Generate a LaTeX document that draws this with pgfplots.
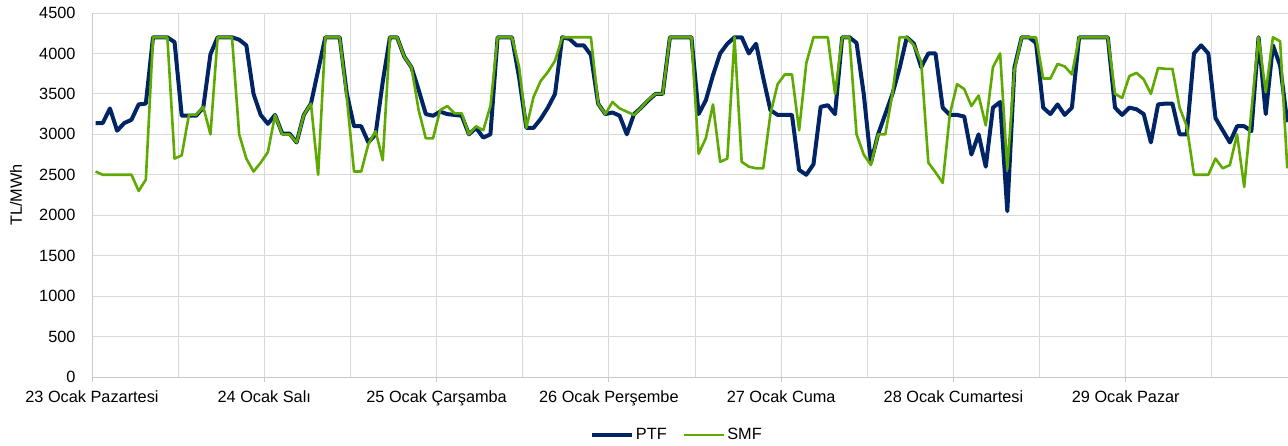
\documentclass[border=0pt]{standalone}
\usepackage{fontspec}
\setmainfont{Liberation Sans}
\usepackage{pgfplots}
\pgfplotsset{compat=1.18}
\usepackage{pgfplotstable}

\definecolor{ptf}{RGB}{0,36,100}
\definecolor{smf}{RGB}{94,170,0}
\definecolor{grd}{RGB}{217,217,217}
\definecolor{axc}{RGB}{200,200,200}
\newcommand\f{\fontsize{16.3}{19.5}\selectfont}

% hourly prices, 23-29 Ocak (h = hour from start)
\pgfplotstableread{
h ptf smf
0 3140 2540
1 3140 2500
2 3320 2500
3 3045 2500
4 3140 2500
5 3180 2500
6 3370 2300
7 3380 2440
8 4200 4200
9 4200 4200
10 4200 4200
11 4140 2700
12 3230 2740
13 3230 3240
14 3230 3240
15 3330 3340
16 3990 3000
17 4200 4200
18 4200 4200
19 4200 4200
20 4170 3000
21 4100 2700
22 3500 2540
23 3240 2650
24 3130 2780
25 3240 3240
26 3010 3000
27 3010 3000
28 2900 2900
29 3240 3240
30 3380 3380
31 3790 2500
32 4200 4200
33 4200 4200
34 4200 4200
35 3500 3450
36 3100 2540
37 3100 2540
38 2900 2880
39 3000 3040
40 3650 2680
41 4200 4200
42 4200 4200
43 3960 3960
44 3830 3830
45 3550 3300
46 3250 2950
47 3230 2950
48 3280 3300
49 3250 3350
50 3240 3260
51 3230 3260
52 3000 3000
53 3080 3100
54 2960 3050
55 3000 3350
56 4200 4200
57 4200 4200
58 4200 4200
59 3700 3830
60 3080 3080
61 3080 3460
62 3190 3660
63 3330 3770
64 3500 3910
65 4200 4200
66 4180 4200
67 4100 4200
68 4100 4200
69 3980 4200
70 3380 3380
71 3250 3250
72 3270 3400
73 3230 3320
74 3000 3280
75 3250 3240
76 3330 3330
77 3420 3430
78 3500 3500
79 3500 3500
80 4200 4200
81 4200 4200
82 4200 4200
83 4200 4200
84 3250 2760
85 3420 2950
86 3730 3370
87 4000 2660
88 4120 2700
89 4200 4200
90 4200 2660
91 4000 2600
92 4120 2580
93 3700 2580
94 3300 3250
95 3240 3620
96 3240 3740
97 3240 3740
98 2560 3050
99 2500 3880
100 2630 4200
101 3340 4200
102 3360 4200
103 3250 3500
104 4200 4200
105 4200 4200
106 4130 3000
107 3500 2750
108 2650 2620
109 3000 3000
110 3250 3000
111 3500 3500
112 3820 4200
113 4200 4200
114 4120 4100
115 3830 3900
116 4000 2650
117 4000 2530
118 3330 2400
119 3240 3250
120 3240 3620
121 3220 3560
122 2750 3350
123 3000 3480
124 2600 3110
125 3330 3830
126 3400 4000
127 2050 2570
128 3830 3800
129 4200 4200
130 4200 4200
131 4130 4200
132 3330 3690
133 3250 3690
134 3370 3870
135 3240 3840
136 3330 3740
137 4200 4200
138 4200 4200
139 4200 4200
140 4200 4200
141 4200 4200
142 3330 3500
143 3240 3450
144 3330 3720
145 3310 3760
146 3250 3680
147 2900 3500
148 3370 3820
149 3380 3810
150 3380 3810
151 3000 3330
152 3000 3100
153 4000 2500
154 4100 2500
155 4000 2500
156 3200 2700
157 3050 2580
158 2900 2620
159 3100 3000
160 3100 2350
161 3040 3290
162 4200 4200
163 3250 3520
164 4100 4200
165 3850 4150
166 3150 2580
}\prices

\begin{document}
\begin{tikzpicture}
\begin{axis}[
  name=ax,
  scale only axis,
  width=1196pt, height=364pt,
  xmin=0, xmax=166.6,
  ymin=0, ymax=4500,
  axis lines*=left,
  axis line style={draw=axc, line width=1pt},
  xtick={0,24,...,144},
  xticklabels={23 Ocak Pazartesi,24 Ocak Salı,25 Ocak Çarşamba,26 Ocak Perşembe,27 Ocak Cuma,28 Ocak Cumartesi,29 Ocak Pazar},
  minor xtick={12,36,...,156},
  ytick={0,500,...,4500},
  grid=both,
  major grid style={draw=grd, line width=1pt},
  minor grid style={draw=grd, line width=1pt},
  tick align=outside,
  major tick length=5pt,
  minor tick length=0pt,
  xtick style={draw=axc, line width=1pt},
  ytick style={draw=none},
  tick label style={font=\f},
  xticklabel style={yshift=-5pt},
  yticklabel style={xshift=-8pt},
  /pgf/number format/assume math mode=true,
  /pgf/number format/1000 sep={},
  ylabel={TL/MWh},
  ylabel style={font=\f, at={(axis description cs:-0.0635,0.5)}, anchor=center},
  legend columns=2,
  legend style={draw=none, font=\f, at={(axis description cs:0.489,-0.159)}, anchor=center,
    /tikz/every even column/.append style={column sep=14pt}},
  legend image code/.code={\draw[#1] (0pt,0pt) -- (40pt,0pt);},
]
\addplot[ptf, line width=4pt, line join=round] table[x expr=\thisrow{h}+0.5, y=ptf]{\prices};
\addlegendentry{PTF}
\addplot[smf, line width=2.6pt, line join=round] table[x expr=\thisrow{h}+0.5, y=smf]{\prices};
\addlegendentry{SMF}
\end{axis}
\pgfresetboundingbox
\path[use as bounding box] ([xshift=-92pt,yshift=-68pt]ax.south west) rectangle ([yshift=13pt]ax.north east);
\end{tikzpicture}
\end{document}
